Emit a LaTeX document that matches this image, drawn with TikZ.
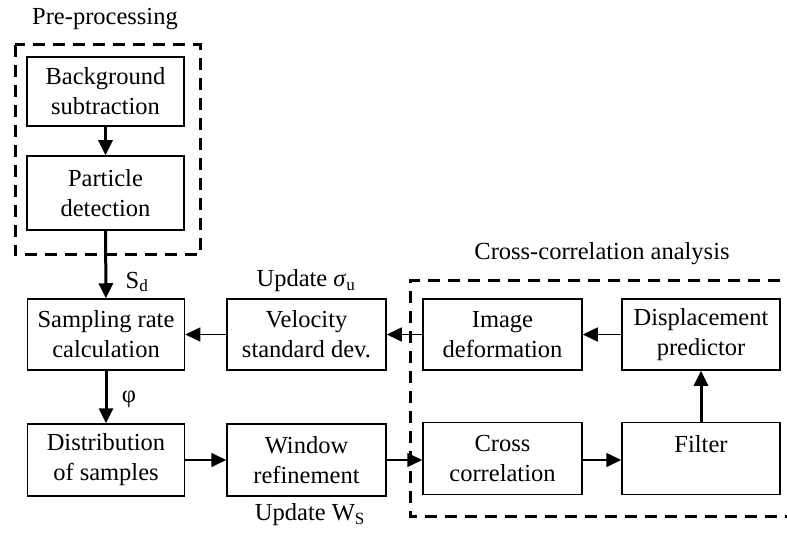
\documentclass[tikz,border=0pt]{standalone}
\usepackage{fontspec}
\setmainfont{Liberation Serif}
\usetikzlibrary{arrows.meta}
\begin{document}
\begin{tikzpicture}[x=1bp,y=-1bp,
  box/.style={draw,line width=1.5bp,minimum width=157bp,minimum height=71bp,align=center,inner sep=0pt,
    font=\fontsize{24.5bp}{30bp}\selectfont},
  lbl/.style={font=\fontsize{24.5bp}{30bp}\selectfont,inner sep=0pt},
  group/.style={draw,line width=3bp,dash pattern=on 12bp off 8bp},
  thin/.style={line width=1.5bp,-{Triangle[length=15bp,width=14bp]}},
  thick/.style={line width=3bp,-{Triangle[length=15bp,width=14bp]}}]
\useasboundingbox (0,0) rectangle (787,533);
% groups
\draw[group] (15,45) rectangle (200,255);
\draw[group] (800,281) -| (410,516) -- (800,516);
\node[lbl] (tpre) at (105,19) {Pre-processing};
\node[lbl] (tcc) at (602,254) {Cross-correlation analysis};
% boxes
\node[box,minimum height=69bp] (bg) at (105.5,91.5) {Background\\subtraction};
\node[box,minimum height=74bp] (pd) at (105.5,193) {Particle\\detection};
\node[box] (sr) at (106,334.5) {Sampling rate\\calculation};
\node[box,minimum width=159bp] (vel) at (306.5,334.5) {Velocity\\standard dev.};
\node[box,minimum width=159bp] (img) at (502.5,334.5) {Image\\deformation};
\node[box,minimum width=158bp] (disp) at (701,334.5) {Displacement\\predictor};
\node[box,minimum height=72bp] (dist) at (106,460) {Distribution\\of samples};
\node[box,minimum width=159bp,minimum height=72bp] (win) at (306.5,460) {Window\\refinement};
\node[box,minimum width=159bp,minimum height=72bp] (cc) at (502.5,458.5) {Cross\\correlation};
\node[box,minimum width=158bp,minimum height=72bp] (filt) at (701,458.5) {Filter\\\mbox{}};
% labels
\node[lbl] (sd) at (137,282) {S\textsubscript{d}};
\node[lbl] (su) at (306,281) {Update \textit{σ}\textsubscript{u}};
\node[lbl] (phi) at (129,399) {φ};
\node[lbl] (ws) at (310,515) {Update W\textsubscript{S}};
% connectors
\draw[thick] (bg) -- (pd);
\draw[thick] (pd) -- (sr);
\draw[thick] (sr) -- (dist);
\draw[thick] (filt) -- (disp);
\draw[thin] (vel) -- (sr);
\draw[thin] (img) -- (vel);
\draw[thin] (disp) -- (img);
\draw[thin] (dist) -- (win);
\draw[thin] (win) -- (cc.west |- win.east);
\draw[thin] (cc.east |- win.east) -- (filt.west |- win.east);
\end{tikzpicture}
\end{document}
